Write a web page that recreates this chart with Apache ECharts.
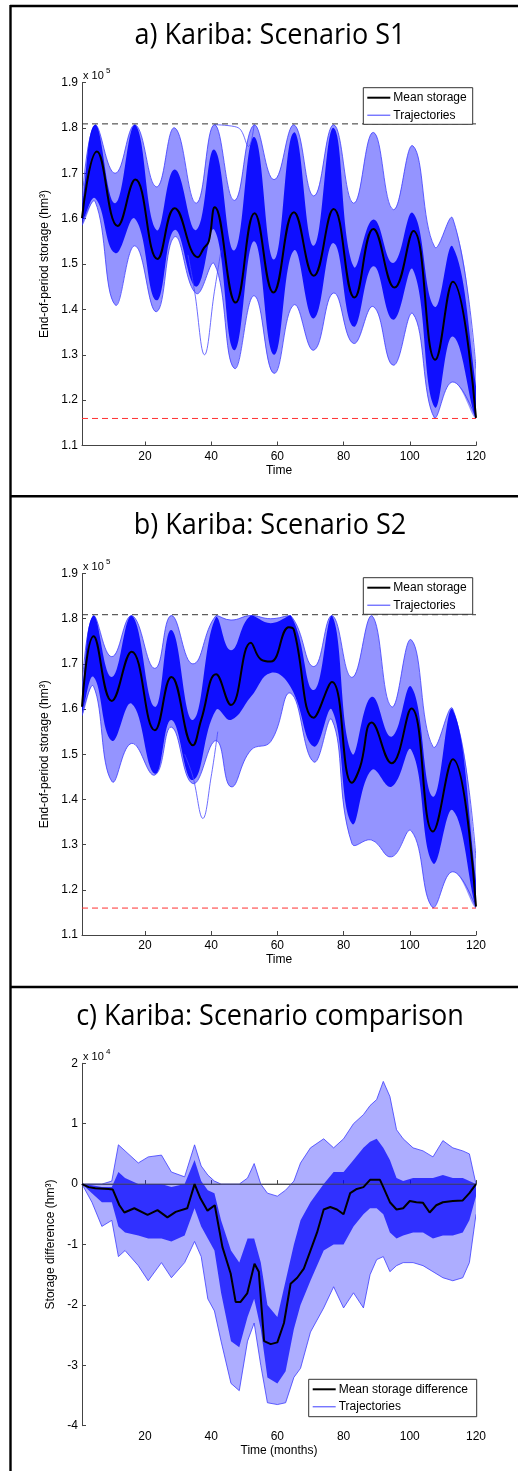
<!DOCTYPE html>
<html lang="en">
<head>
<meta charset="utf-8">
<title>Kariba: storage trajectories</title>
<script src="https://cdn.jsdelivr.net/npm/echarts@6/dist/echarts.min.js"></script>
<style>
  html, body { margin:0; padding:0; background:#fff; }
  #chart { width:518px; height:1471px; }
</style>
</head>
<body>
<div id="chart"></div>
<script>
// storage in 10^5 hm3 (panels a and b), storage difference in 10^4 hm3 (panel c)
var sMax = 1.8088, sMin = 1.1596;
var xTicks = [20, 40, 60, 80, 100, 120];

// ---- a) Scenario S1 : band knots (months) and envelopes of the trajectories
var tA       = [1, 5, 11, 17, 23.5, 29, 35.5, 41, 47, 53, 59, 65, 71, 77, 83, 89, 95, 101, 107.5, 113, 120];
var outerUpA = [1.634, 1.807, 1.70, 1.807, 1.67, 1.80, 1.634, 1.807, 1.64, 1.807, 1.686, 1.807, 1.65, 1.807, 1.634, 1.79, 1.62, 1.76, 1.538, 1.60, 1.27];
var coreUpA  = [1.625, 1.807, 1.634, 1.807, 1.575, 1.708, 1.575, 1.752, 1.53, 1.78, 1.51, 1.79, 1.54, 1.80, 1.495, 1.598, 1.502, 1.612, 1.406, 1.538, 1.23];
var coreLoA  = [1.595, 1.645, 1.524, 1.60, 1.42, 1.575, 1.45, 1.575, 1.31, 1.55, 1.30, 1.53, 1.38, 1.546, 1.362, 1.495, 1.377, 1.487, 1.185, 1.34, 1.16];
var outerLoA = [1.585, 1.637, 1.41, 1.54, 1.395, 1.56, 1.435, 1.50, 1.27, 1.43, 1.259, 1.41, 1.31, 1.436, 1.325, 1.406, 1.277, 1.39, 1.16, 1.24, 1.16];
var meanA = [[1,1.601],[5.5,1.748],[11.8,1.584],[17.1,1.686],[23.8,1.511],[29,1.623],[36,1.515],[37.8,1.535],[39.3,1.55],[41.1,1.625],
  [47.4,1.415],[53.1,1.612],[58.8,1.437],[65,1.614],[71,1.474],[77,1.621],[83.3,1.426],[89,1.577],[95.4,1.448],[101.1,1.573],
  [107.7,1.289],[113,1.461],[120,1.161]];
var outliersA = [
  [[33,1.52],[35,1.44],[38,1.30],[41,1.44],[43,1.53]],
  [[41,1.807],[47,1.803],[49,1.795],[51.3,1.759],[53,1.807]]
];

// ---- b) Scenario S2
var tB       = [1, 4.5, 10, 16, 23, 28, 34.5, 41.5, 46, 52, 58, 64, 71, 76.5, 82.5, 88.5, 94.5, 100.5, 107, 113, 120];
var outerUpB = [1.64, 1.807, 1.716, 1.807, 1.69, 1.807, 1.70, 1.807, 1.797, 1.807, 1.80, 1.807, 1.694, 1.807, 1.67, 1.807, 1.605, 1.753, 1.517, 1.60, 1.27];
var coreUpB  = [1.63, 1.807, 1.671, 1.807, 1.605, 1.775, 1.576, 1.804, 1.73, 1.807, 1.79, 1.807, 1.642, 1.807, 1.502, 1.627, 1.539, 1.649, 1.406, 1.598, 1.22];
var coreLoB  = [1.595, 1.671, 1.53, 1.612, 1.457, 1.576, 1.443, 1.598, 1.576, 1.627, 1.68, 1.649, 1.517, 1.598, 1.347, 1.465, 1.428, 1.509, 1.259, 1.376, 1.16];
var outerLoB = [1.585, 1.65, 1.44, 1.524, 1.454, 1.56, 1.435, 1.53, 1.428, 1.509, 1.528, 1.635, 1.483, 1.576, 1.303, 1.31, 1.273, 1.33, 1.16, 1.24, 1.16];
var meanB = [[1,1.605],[4.5,1.761],[10,1.618],[16,1.727],[23,1.553],[28,1.671],[34.5,1.52],[37,1.576],[41.5,1.677],[46,1.609],
  [52,1.747],[55,1.71],[58,1.705],[63.5,1.781],[65,1.775],[71,1.581],[76.5,1.66],[82.5,1.437],[85,1.472],[88.5,1.57],
  [94.5,1.48],[100.5,1.601],[107,1.329],[113,1.489],[120,1.163]];
var outliersB = [
  [[32,1.50],[34.5,1.45],[37.5,1.358],[40,1.45],[42,1.55]]
];

// ---- c) Scenario comparison (S2 - S1)
var tC       = [1, 4, 7, 10, 12, 14, 18, 21, 25, 28, 32, 35, 37, 39, 41, 43, 46, 48.5, 51, 53, 55, 57, 60, 62.5, 65, 67, 70, 74, 77, 80, 83, 86, 88, 90, 92, 94, 96, 98, 101, 104, 107, 110, 113, 116, 118, 120];
var outerUpC = [0, 0, 0, 0.05, 0.65, 0.55, 0.35, 0.45, 0.48, 0.2, 0.12, 0.65, 0.3, 0.15, 0.05, 0, 0, 0, 0.1, 0.34, 0, -0.15, -0.2, -0.1, 0.05, 0.35, 0.6, 0.75, 0.6, 0.75, 1.0, 1.15, 1.3, 1.4, 1.7, 1.45, 0.9, 0.75, 0.6, 0.55, 0.45, 0.72, 0.6, 0.55, 0.5, 0];
var coreUpC  = [0, -0.02, -0.05, -0.05, 0.2, 0.1, 0, 0, 0, -0.05, 0, 0.4, 0.05, -0.1, -0.15, -0.6, -1.1, -1.3, -0.9, -0.9, -1.3, -2.0, -2.2, -1.6, -1.0, -0.6, -0.3, 0, 0.2, 0.2, 0.4, 0.6, 0.7, 0.75, 0.6, 0.4, 0.1, 0.05, 0.1, 0.1, 0.1, 0.15, 0.1, 0.1, 0.05, 0];
var coreLoC  = [0, -0.15, -0.3, -0.3, -0.7, -0.8, -0.85, -0.9, -0.9, -0.95, -0.85, -0.4, -0.7, -0.9, -1.1, -1.8, -2.6, -2.7, -2.2, -1.9, -2.4, -3.2, -3.3, -3.1, -2.4, -2.0, -1.6, -1.1, -1.0, -1.0, -0.7, -0.5, -0.4, -0.4, -0.5, -0.8, -0.9, -0.85, -0.8, -0.8, -0.9, -0.85, -0.85, -0.8, -0.6, -0.2];
var outerLoC = [0, -0.3, -0.7, -0.6, -1.2, -1.1, -1.35, -1.6, -1.3, -1.55, -1.3, -0.95, -1.2, -1.9, -2.1, -2.6, -3.3, -3.42, -2.6, -2.3, -3.0, -3.62, -3.65, -3.62, -3.2, -3.05, -2.45, -2.05, -1.7, -2.05, -1.8, -2.05, -1.5, -1.25, -1.2, -1.45, -1.35, -1.3, -1.3, -1.35, -1.45, -1.55, -1.6, -1.55, -1.3, -0.5];
var meanC = [[1,0],[3,-0.05],[5,-0.07],[9,-0.08],[10.3,-0.09],[12.3,-0.35],[13.8,-0.47],[16.8,-0.4],[20.8,-0.51],[23.8,-0.43],
  [26.8,-0.55],[29.3,-0.46],[32.8,-0.4],[35,0],[36.8,-0.24],[38.9,-0.44],[41.1,-0.35],[43.4,-1.04],[45.9,-1.48],[47.4,-1.95],
  [48.9,-1.95],[50.9,-1.81],[53.1,-1.32],[54.4,-1.45],[56,-2.6],[58,-2.65],[60,-2.62],[62,-2.3],[64,-1.65],[66,-1.55],
  [68,-1.4],[70,-1.1],[72,-0.8],[74,-0.42],[76,-0.38],[78,-0.42],[80,-0.5],[82,-0.15],[84,-0.08],[86,-0.05],[88,0.07],
  [91,0.07],[92,-0.05],[94,-0.3],[96,-0.42],[98,-0.4],[100,-0.28],[102,-0.3],[104,-0.31],[106,-0.47],[108,-0.35],
  [110,-0.3],[113,-0.28],[116,-0.27],[118,-0.15],[120,0]];

var FONT = '"Liberation Sans", Arial, sans-serif';
var EDGE = '#3c3cff';

// band between two envelopes, drawn once as a polygon from the axis scales
function band(gi, t, lo, hi, fill, edge, smooth) {
  return {
    type: 'custom', xAxisIndex: gi, yAxisIndex: gi, silent: true, animation: false, clip: true,
    data: t.map(function (x, i) { return [x, lo[i], hi[i]]; }),
    encode: { x: 0, y: [1, 2] },
    renderItem: function (params, api) {
      if (params.dataIndex !== 0) return null;
      var up = [], dn = [];
      for (var i = 0; i < t.length; i++) {
        up.push(api.coord([t[i], hi[i]]));
        dn.push(api.coord([t[i], lo[i]]));
      }
      var all = up.concat(dn.slice().reverse());
      var minX = Infinity, minY = Infinity, maxX = -Infinity, maxY = -Infinity;
      all.forEach(function (p) {
        minX = Math.min(minX, p[0]); maxX = Math.max(maxX, p[0]);
        minY = Math.min(minY, p[1]); maxY = Math.max(maxY, p[1]);
      });
      var box = [[minX, minY], [maxX, maxY]];
      var kids = [{ type: 'polygon', shape: { points: all, smooth: smooth, smoothConstraint: box },
        style: { fill: fill } }];
      if (edge) {
        kids.push({ type: 'polyline', shape: { points: up, smooth: smooth, smoothConstraint: box },
          style: { stroke: edge, lineWidth: 0.8, fill: null } });
        kids.push({ type: 'polyline', shape: { points: dn, smooth: smooth, smoothConstraint: box },
          style: { stroke: edge, lineWidth: 0.8, fill: null } });
      }
      return { type: 'group', children: kids };
    }
  };
}

function line(gi, data, color, width, smooth, dash) {
  return { type: 'line', xAxisIndex: gi, yAxisIndex: gi, data: data, smooth: smooth,
    showSymbol: false, silent: true, animation: false,
    lineStyle: { color: color, width: width, type: dash || 'solid' } };
}

function panel(gi, t, oUp, cUp, cLo, oLo, outl, smooth, aOut, aCore) {
  var s = [];
  s.push(band(gi, t, oLo, oUp, 'rgba(0,0,255,' + aOut + ')', EDGE, smooth));
  s.push(band(gi, t, cLo, cUp, 'rgba(0,0,255,' + aCore + ')', null, smooth));
  outl.forEach(function (d) { s.push(line(gi, d, '#4848ff', 0.8, 0.4)); });
  return s;
}

var series = [];
series = series.concat(panel(0, tA, outerUpA, coreUpA, coreLoA, outerLoA, outliersA, 0.45, 0.42, 0.9));
series.push(line(0, [[1, sMax], [120, sMax]], '#333', 1, false, [6, 4]));
series.push(line(0, [[1, sMin], [120, sMin]], '#ff3030', 1, false, [6, 4]));
series.push(line(0, meanA, '#000', 2, 0.45));

series = series.concat(panel(1, tB, outerUpB, coreUpB, coreLoB, outerLoB, outliersB, 0.45, 0.42, 0.9));
series.push(line(1, [[1, sMax], [120, sMax]], '#333', 1, false, [6, 4]));
series.push(line(1, [[1, sMin], [120, sMin]], '#ff3030', 1, false, [6, 4]));
series.push(line(1, meanB, '#000', 2, 0.45));

series = series.concat(panel(2, tC, outerUpC, coreUpC, coreLoC, outerLoC, [], 0, 0.32, 0.72));
series.push(line(2, [[1, 0], [120, 0]], '#555', 1, false));
series.push(line(2, meanC, '#000', 2, false));

var axisCol = '#444';
function xAx(gi, name) {
  return { type: 'value', gridIndex: gi, min: 1, max: 120,
    name: name, nameLocation: 'middle', nameGap: 19,
    nameTextStyle: { color: '#000', fontSize: 12, fontFamily: FONT },
    axisLine: { lineStyle: { color: axisCol, width: 1 } },
    axisTick: { inside: true, length: 4, customValues: xTicks, lineStyle: { color: axisCol } },
    axisLabel: { customValues: xTicks, color: '#000', fontSize: 12, fontFamily: FONT, margin: 5 },
    splitLine: { show: false } };
}
function yAx(gi, name, min, max, step, dec, gap) {
  return { type: 'value', gridIndex: gi, min: min, max: max, interval: step,
    name: name, nameLocation: 'middle', nameGap: gap, nameRotate: 90,
    nameTextStyle: { color: '#000', fontSize: 12, fontFamily: FONT },
    axisLine: { show: true, lineStyle: { color: axisCol, width: 1 } },
    axisTick: { show: true, inside: true, length: 4, lineStyle: { color: axisCol } },
    axisLabel: { color: '#000', fontSize: 12, fontFamily: FONT, margin: 4,
      formatter: function (v) { return dec ? v.toFixed(dec) : String(Math.round(v)); } },
    splitLine: { show: false } };
}

function legendBox(x0, y0, w, h, label1, dx) {
  return [
    { type: 'rect', z: 100, shape: { x: x0, y: y0, width: w, height: h },
      style: { fill: '#fff', stroke: '#333', lineWidth: 1 } },
    { type: 'line', z: 101, shape: { x1: x0 + 4, y1: y0 + 10, x2: x0 + dx - 3, y2: y0 + 10 },
      style: { stroke: '#000', lineWidth: 2 } },
    { type: 'text', z: 101, x: x0 + dx, y: y0 + 10,
      style: { text: label1, font: '12px ' + FONT, fill: '#000', verticalAlign: 'middle' } },
    { type: 'line', z: 101, shape: { x1: x0 + 4, y1: y0 + 27.5, x2: x0 + dx - 3, y2: y0 + 27.5 },
      style: { stroke: EDGE, lineWidth: 1 } },
    { type: 'text', z: 101, x: x0 + dx, y: y0 + 27.5,
      style: { text: 'Trajectories', font: '12px ' + FONT, fill: '#000', verticalAlign: 'middle' } }
  ];
}
function title(txt, y) {
  return { type: 'text', z: 100, x: 270, y: y, scaleX: 0.9,
    style: { text: txt, font: '30px "Open Sans", sans-serif', fill: '#000', align: 'center', verticalAlign: 'middle' } };
}
function expo(y, p) {
  return [
    { type: 'text', z: 100, x: 83, y: y, style: { text: 'x 10', font: '11px ' + FONT, fill: '#000', verticalAlign: 'bottom' } },
    { type: 'text', z: 100, x: 106, y: y - 6, style: { text: p, font: '8px ' + FONT, fill: '#000', verticalAlign: 'bottom' } }
  ];
}
function frameLine(x1, y1, x2, y2) {
  return { type: 'line', z: 100, shape: { x1: x1, y1: y1, x2: x2, y2: y2 }, style: { stroke: '#000', lineWidth: 2.4 } };
}

var elements = [
  frameLine(10.5, 5, 10.5, 1471), frameLine(10, 6, 518, 6), frameLine(10, 496.3, 518, 496.3), frameLine(10, 987, 518, 987),
  title('a) Kariba: Scenario S1', 35.5), title('b) Kariba: Scenario S2', 525.5), title('c) Kariba: Scenario comparison', 1016.5)
].concat(expo(81, '5'), expo(572, '5'), expo(1062, '4'),
  legendBox(363.3, 87.7, 109.4, 36.6, 'Mean storage', 30),
  legendBox(363.3, 577.7, 109.4, 36.6, 'Mean storage', 30),
  legendBox(308.7, 1379.3, 168, 37.4, 'Mean storage difference', 30));

var chart = echarts.init(document.getElementById('chart'), null, { renderer: 'canvas' });
chart.setOption({
  animation: false,
  backgroundColor: '#fff',
  grid: [
    { left: 82, top: 82.5, width: 394, height: 363 },
    { left: 82, top: 573.5, width: 394, height: 361.5 },
    { left: 82, top: 1063.3, width: 394, height: 362.4 }
  ],
  xAxis: [xAx(0, 'Time'), xAx(1, 'Time'), xAx(2, 'Time (months)')],
  yAxis: [
    yAx(0, 'End-of-period storage (hm\u00b3)', 1.1, 1.9, 0.1, 1, 24),
    yAx(1, 'End-of-period storage (hm\u00b3)', 1.1, 1.9, 0.1, 1, 24),
    yAx(2, 'Storage difference (hm\u00b3)', -4, 2, 1, 0, 21)
  ],
  series: series,
  graphic: { elements: elements }
});
</script>
</body>
</html>
